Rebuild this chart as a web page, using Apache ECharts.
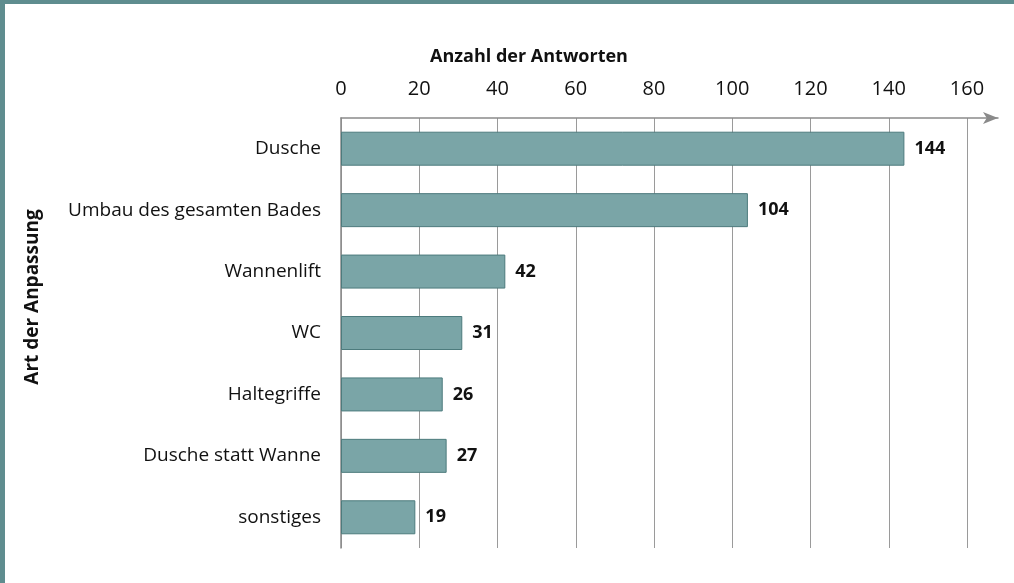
<!DOCTYPE html>
<html>
<head>
<meta charset="utf-8">
<script src="https://cdn.jsdelivr.net/npm/echarts@6/dist/echarts.min.js"></script>
<style>
  body { margin: 0; background: #fff; }
  #main { position: absolute; left: 0; top: 0; width: 1014px; height: 583px; }
  .rand-top { position: absolute; left: 0; top: 0; width: 1014px; height: 4px; background: #5f8d8f; }
  .rand-links { position: absolute; left: 0; top: 0; width: 5px; height: 583px; background: #5f8d8f; }
</style>
</head>
<body>
<div id="main"></div>
<div class="rand-top"></div>
<div class="rand-links"></div>
<script>
// Kategorien (von oben nach unten)
var kategorien = ['Dusche', 'Umbau des gesamten Bades', 'Wannenlift', 'WC', 'Haltegriffe', 'Dusche statt Wanne', 'sonstiges'];
// Anzahl der Antworten
var antworten = [144, 104, 42, 31, 26, 27, 19];

var schrift = 'Open Sans';
var chart = echarts.init(document.getElementById('main'));

chart.setOption({
  animation: false,
  textStyle: { fontFamily: schrift },
  grid: [
    { left: 341, right: 47, top: 118, height: 430 },
    // nur fuer die Achsenlinie mit Pfeil
    { left: 341, right: 16, top: 118, height: 430 }
  ],
  xAxis: [
    {
      type: 'value',
      gridIndex: 0,
      position: 'top',
      min: 0,
      max: 160,
      interval: 20,
      name: 'Anzahl der Antworten',
      nameLocation: 'middle',
      nameGap: 52,
      // Titel sitzt links von der Mitte
      nameTextStyle: { fontSize: 18, fontWeight: 'bold', color: '#111', fontFamily: schrift, padding: [0, 250, 0, 0] },
      axisLine: { show: false },
      axisTick: { show: false },
      axisLabel: { fontSize: 20, color: '#111', margin: 19, fontFamily: schrift },
      splitLine: { show: true, lineStyle: { color: '#9a9a9a', width: 1 } }
    },
    {
      type: 'value',
      gridIndex: 1,
      position: 'top',
      min: 0,
      max: 1,
      axisLine: {
        show: true,
        symbol: ['none', 'arrow'],
        symbolSize: [9, 15],
        lineStyle: { color: '#8a8a8a', width: 1.5 }
      },
      axisTick: { show: false },
      axisLabel: { show: false },
      splitLine: { show: false }
    }
  ],
  yAxis: [
    {
      type: 'category',
      gridIndex: 0,
      data: kategorien,
      inverse: true,
      name: 'Art der Anpassung',
      nameLocation: 'middle',
      nameRotate: 90,
      nameGap: 299,
      nameTextStyle: { fontSize: 19, fontWeight: 'bold', color: '#111', fontFamily: schrift, padding: [0, 0, 0, 72] },
      axisLine: { show: true, lineStyle: { color: '#8a8a8a', width: 1.5 } },
      axisTick: { show: false },
      axisLabel: { fontSize: 19, color: '#111', margin: 20, fontFamily: schrift }
    },
    {
      type: 'category',
      gridIndex: 1,
      data: kategorien,
      show: false
    }
  ],
  series: [
    {
      type: 'bar',
      xAxisIndex: 0,
      yAxisIndex: 0,
      data: antworten,
      barWidth: 34,
      itemStyle: { color: '#7aa5a7', borderColor: '#4d7b7d', borderWidth: 1 },
      label: {
        show: true,
        position: 'right',
        distance: 10,
        fontSize: 18,
        fontWeight: 'bold',
        color: '#111',
        fontFamily: schrift
      }
    }
  ]
});
</script>
</body>
</html>
